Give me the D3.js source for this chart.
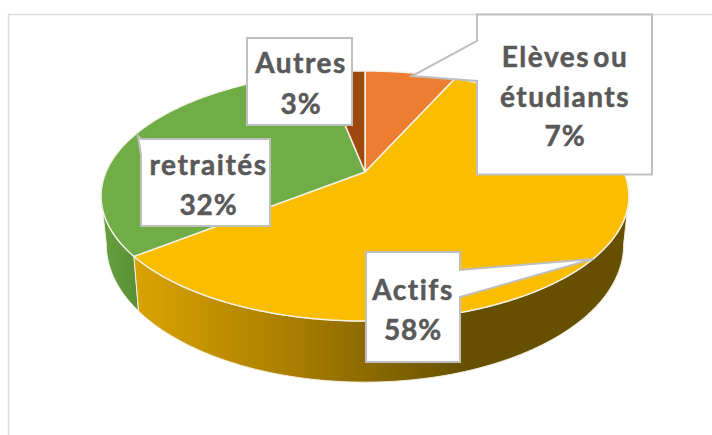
<!DOCTYPE html>
<html>
<head>
<meta charset="utf-8">
<script src="https://cdnjs.cloudflare.com/ajax/libs/d3/7.8.5/d3.min.js"></script>
<style>
  html, body { margin: 0; padding: 0; background: #fff; }
  svg { display: block; }
  text { font-family: Lato, "Open Sans", sans-serif; font-weight: 700; fill: #595959; stroke: #595959; stroke-width: 0.5px; }
</style>
</head>
<body>
<div id="chart"></div>
<script>
//Data

const categories = ["Elèves ou étudiants", "Actifs", "retraités", "Autres"];
const values = [6.7, 57.7, 32.5, 3.1];
const labelLines = [["Elèves ou", "étudiants", "7%"], ["Actifs", "58%"], ["retraités", "32%"], ["Autres", "3%"]];
const sliceColors = ["#ED7D31", "#FBBD00", "#70AD47", "#9E480E"];

//Set Dimensions

const xSize = 712; const ySize = 435;

//Perspective of the pie: unit circle to screen

const cx = 365, cy = 172;
const persp = -0.192, depthY = 87.4, spreadX = 259;

function project(angle) {
  const u = Math.sin(angle), v = -Math.cos(angle);
  const w = 1 + persp * v;
  return [cx + spreadX * u / w, (depthY * v + cy) / w];
}

//The lower rim is the top rim, slightly narrower and taller

function lower(p) {
  return [cx + 0.98 * (p[0] - cx), 1.1 * p[1] + 29];
}

function rim(a0, a1) {
  const pts = d3.range(a0, a1, 0.01).map(project);
  pts.push(project(a1));
  return pts;
}

const svg = d3.select("#chart")
  .append("svg")
  .attr("width", xSize)
  .attr("height", ySize);

svg.append("rect").attr("width", xSize).attr("height", ySize).attr("fill", "#fff");

//Chart frame

svg.append("path")
  .attr("d", "M8.5," + ySize + "V14.5H" + xSize)
  .attr("fill", "none")
  .attr("stroke", "#dcdcdc")
  .attr("stroke-width", 1.5);

//Gradients for the side wall

const defs = svg.append("defs");

function wallGradient(id, x0, x1, stops) {
  const g = defs.append("linearGradient")
    .attr("id", id)
    .attr("gradientUnits", "userSpaceOnUse")
    .attr("x1", x0).attr("x2", x1).attr("y1", 0).attr("y2", 0);
  stops.forEach(s => g.append("stop").attr("offset", s[0]).attr("stop-color", s[1]));
}

wallGradient("wallYellow", 135, 465, [[0, "#D9A300"], [0.5, "#A67C00"], [1, "#665000"]]);
wallGradient("wallGreen", 103, 137, [[0, "#659E3F"], [1, "#5A9035"]]);

//Slices

const line = d3.line();
const slices = d3.pie().sort(null)(values);

//Side wall, only the front part of the ring can be seen

const rightEdge = Math.acos(persp) , leftEdge = 2 * Math.PI - rightEdge;

function wallPath(a0, a1) {
  const top = rim(a0, a1);
  return line(top.concat(top.map(lower).reverse())) + "Z";
}

svg.append("path")
  .attr("d", wallPath(slices[2].startAngle, leftEdge))
  .attr("fill", "url(#wallGreen)")
  .attr("stroke", "#eef3ea")
  .attr("stroke-width", 1);

svg.append("path")
  .attr("d", wallPath(rightEdge, slices[1].endAngle))
  .attr("fill", "url(#wallYellow)")
  .attr("stroke", "#f3efe2")
  .attr("stroke-width", 1);

//Top face

svg.selectAll("path.slice")
  .data(slices)
  .enter()
  .append("path")
  .attr("class", "slice")
  .attr("d", d => line([[cx, cy]].concat(rim(d.startAngle, d.endAngle))) + "Z")
  .attr("fill", (d, i) => sliceColors[i])
  .attr("stroke", "#f4f1e6")
  .attr("stroke-width", 1.5)
  .attr("stroke-linejoin", "round");

//Callouts, one box and pointer for each label

const boxes = [
  { x: 477, y: 14.5, w: 175, h: 160, tip: [412, 76], side: "left", p0: 41, p1: 81, tx: 565, base: 67, gap: 39.5 },
  { x: 366, y: 252, w: 94, h: 110, tip: [593, 259], side: "right", p0: 270, p1: 297, tx: 413, base: 300, gap: 40 },
  { x: 141, y: 139, w: 129, h: 87, tip: [138, 136], side: "thin", p0: 0, p1: 0, tx: 208.5, base: 175, gap: 40 },
  { x: 247, y: 38, w: 105, h: 87, tip: null, side: "none", p0: 0, p1: 0, tx: 301, base: 73, gap: 41 }
];

function boxPath(b) {
  const x0 = b.x, x1 = b.x + b.w, y0 = b.y, y1 = b.y + b.h;
  if (b.side === "left") {
    return line([[x0, y0], [x1, y0], [x1, y1], [x0, y1], [x0, b.p1], b.tip, [x0, b.p0]]) + "Z";
  }
  if (b.side === "right") {
    return line([[x0, y0], [x1, y0], [x1, b.p0], b.tip, [x1, b.p1], [x1, y1], [x0, y1]]) + "Z";
  }
  if (b.side === "thin") {
    return line([[x0, y0], [x1, y0], [x1, y1], [x0, y1], [x0, y0 + 16], b.tip]) + "Z";
  }
  return line([[x0, y0], [x1, y0], [x1, y1], [x0, y1]]) + "Z";
}

svg.selectAll("path.box")
  .data(boxes)
  .enter()
  .append("path")
  .attr("class", "box")
  .attr("d", boxPath)
  .attr("fill", "#fff")
  .attr("stroke", "#bfbfbf")
  .attr("stroke-width", 2)
  .attr("stroke-linejoin", "miter");

//Label text, words are set wider than the percentages

const labels = svg.selectAll("text.label")
  .data(boxes)
  .enter()
  .append("text")
  .attr("class", "label")
  .attr("text-anchor", "middle")
  .attr("font-size", 28)
  .attr("data-category", (d, i) => categories[i]);

labels.selectAll("tspan")
  .data((d, i) => labelLines[i].map((t, k) => ({ t: t, x: d.tx, y: d.base + k * d.gap })))
  .enter()
  .append("tspan")
  .attr("x", d => d.x)
  .attr("y", d => d.y)
  .attr("letter-spacing", d => d.t.endsWith("%") ? 0.8 : 1.5)
  .attr("word-spacing", -5)
  .text(d => d.t);
</script>
</body>
</html>
